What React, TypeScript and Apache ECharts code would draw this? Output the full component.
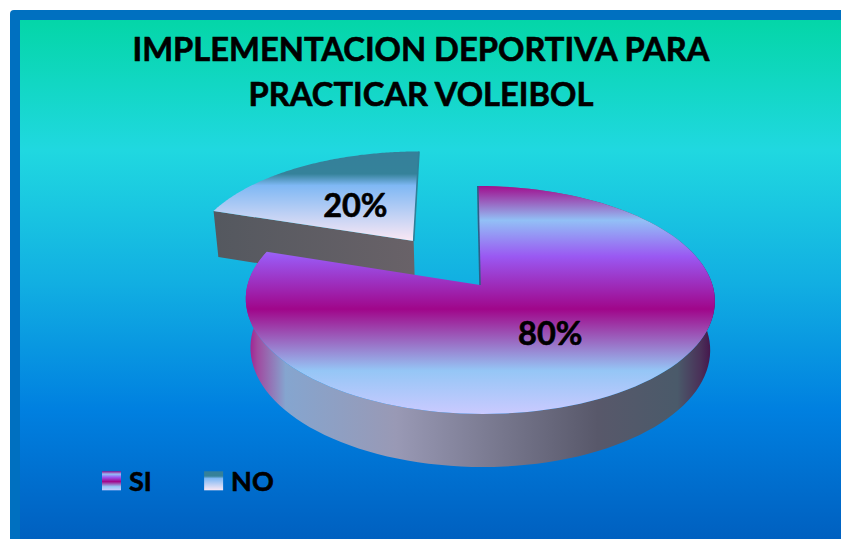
import React, { useEffect, useRef } from "react";
import * as echarts from "echarts";

const titleText = "IMPLEMENTACION DEPORTIVA PARA\nPRACTICAR VOLEIBOL";
const categories = ["SI", "NO"];
const values = [80, 20];
const fontFamily = "Lato, 'Open Sans', sans-serif";

const grad = (x0: number, y0: number, x1: number, y1: number, stops: [number, string][]) =>
  new echarts.graphic.LinearGradient(x0, y0, x1, y1, stops.map(([offset, color]) => ({ offset, color })));

const siStops: [number, string][] = [
  [0, "#a00e8e"], [0.15, "#92c0f6"], [0.31, "#9a58f2"], [0.54, "#a0068a"], [0.81, "#95c6f6"], [1, "#cacaff"],
];
const noStops: [number, string][] = [
  [0, "#35809a"], [0.25, "#35829a"], [0.38, "#7fb8f4"], [1, "#fbe8f4"],
];
const siSideStops: [number, string][] = [
  [0, "#a0108a"], [0.025, "#a04aa0"], [0.085, "#85a5cf"], [0.32, "#9999b5"], [0.55, "#76768c"],
  [0.75, "#58586a"], [0.92, "#4a5a6a"], [0.97, "#4a3058"], [1, "#420c48"],
];
const noSideStops: [number, string][] = [[0, "#54585f"], [1, "#696268"]];

// perspective projection of a unit disc lying on a floor, z = 0 top face, z = 1 bottom face
const CX = 480, CY = 285, A = 232.5, B = 112, P = 0.1316, H = 49.7, Q = 0.02, SKEW = 2.5;
const project = (u: number, v: number, z: number): [number, number] => {
  const w = 1 - P * v + Q * z;
  return [CX + (A * u + SKEW * v) / w, CY + (B * v + H * z) / w];
};
const total = values.reduce((a, b) => a + b, 0);

function sliceGeometry(index: number, explode: number, dx: number) {
  const before = values.slice(0, index).reduce((a, b) => a + b, 0);
  const t0 = (before / total) * Math.PI * 2;
  const t1 = ((before + values[index]) / total) * Math.PI * 2;
  const mid = (t0 + t1) / 2;
  const u0 = Math.sin(mid) * explode;
  const v0 = -Math.cos(mid) * explode;
  const at = (u: number, v: number, z: number): [number, number] => {
    const [x, y] = project(u, v, z);
    return [x + dx, y];
  };
  const arc = (z: number) => {
    const pts: [number, number][] = [];
    const n = 120;
    for (let i = 0; i <= n; i++) {
      const t = t0 + ((t1 - t0) * i) / n;
      pts.push(at(u0 + Math.sin(t), v0 - Math.cos(t), z));
    }
    return pts;
  };
  return {
    apexTop: at(u0, v0, 0),
    apexBottom: at(u0, v0, 1),
    arcTop: arc(0),
    arcBottom: arc(1),
    label: at(u0 + Math.sin(mid) * 0.5, v0 - Math.cos(mid) * 0.5, 0),
  };
}

const heavy = { textBorderColor: "#000", textBorderWidth: 0.6 };

const renderSi = (_p: any, api: any) => {
  const g = sliceGeometry(0, 0, 0);
  return {
    type: "group",
    children: [
      {
        type: "polygon",
        shape: { points: [...g.arcTop, ...[...g.arcBottom].reverse()] },
        style: { fill: grad(0, 0, 1, 0, siSideStops) },
      },
      {
        type: "polygon",
        shape: { points: [g.apexTop, ...g.arcTop] },
        style: { fill: grad(0, 0, 0, 1, siStops) },
      },
      {
        type: "line",
        shape: { x1: g.arcTop[0][0], y1: g.arcTop[0][1], x2: g.apexTop[0], y2: g.apexTop[1] },
        style: { stroke: "#2c5f88", lineWidth: 1.6 },
      },
      {
        type: "text",
        z2: 10,
        style: {
          text: `${api.value(0)}%`, x: g.label[0] - 3, y: g.label[1], align: "center", verticalAlign: "middle",
          font: `bold 32.5px ${fontFamily}`, fill: "#000", stroke: "#000", lineWidth: 0.6,
        },
      },
    ],
  };
};

const renderNo = (_p: any, api: any) => {
  const g = sliceGeometry(1, 0.512, 1);
  const first = g.arcTop[0];
  const firstB = g.arcBottom[0];
  const last = g.arcTop[g.arcTop.length - 1];
  return {
    type: "group",
    children: [
      {
        type: "polygon",
        shape: { points: [first, g.apexTop, g.apexBottom, firstB] },
        style: { fill: grad(0, 0, 1, 0, noSideStops) },
      },
      {
        type: "polygon",
        shape: { points: [g.apexTop, ...g.arcTop] },
        style: { fill: grad(0, 0, 0, 1, noStops) },
      },
      {
        type: "line",
        shape: { x1: last[0], y1: last[1], x2: g.apexTop[0], y2: g.apexTop[1] },
        style: { stroke: "#2f7f98", lineWidth: 1.6 },
      },
      {
        type: "text",
        z2: 10,
        style: {
          text: `${api.value(0)}%`, x: g.label[0] + 1, y: g.label[1] + 2, align: "center", verticalAlign: "middle",
          font: `bold 32.5px ${fontFamily}`, fill: "#000", stroke: "#000", lineWidth: 0.6,
        },
      },
    ],
  };
};

export default function App() {
  const ref = useRef<HTMLDivElement>(null);
  useEffect(() => {
    document.body.style.margin = "0";
    document.body.style.background = "#fff";
    const chart = echarts.init(ref.current!, undefined, { renderer: "svg" });
    chart.setOption({
      animation: false,
      title: {
        text: titleText,
        left: 421,
        top: 26,
        padding: 0,
        textAlign: "center",
        textStyle: { fontFamily, fontWeight: "bold", fontSize: 32.7, lineHeight: 45, color: "#000", ...heavy },
      },
      legend: {
        left: 102,
        top: 467,
        padding: 0,
        itemWidth: 19,
        itemHeight: 19,
        itemGap: 52,
        textStyle: { fontFamily, fontWeight: "bold", fontSize: 27, color: "#000", padding: [0, 0, 0, 3], ...heavy },
        data: [
          { name: categories[0], icon: "rect", itemStyle: { color: grad(0, 0, 0, 1, siStops) } },
          { name: categories[1], icon: "rect", itemStyle: { color: grad(0, 0, 0, 1, noStops) } },
        ],
      },
      graphic: [
        { type: "rect", z: -20, shape: { x: 10, y: 10, width: 831, height: 529, r: [4, 0, 0, 0] }, style: { fill: "#0070c0" } },
        {
          type: "rect", z: -19, shape: { x: 20, y: 20, width: 821, height: 519 },
          style: {
            fill: grad(0, 0, 0, 1, [
              [0, "#04d6a8"], [0.25, "#20d8e0"], [0.5, "#12b0e2"], [0.75, "#0080e0"], [1, "#0060c0"],
            ]),
          },
        },
      ],
      series: [
        { type: "custom", name: categories[1], coordinateSystem: "none", renderItem: renderNo, data: [values[1]], z: 2 },
        { type: "custom", name: categories[0], coordinateSystem: "none", renderItem: renderSi, data: [values[0]], z: 3 },
      ],
    });
    return () => chart.dispose();
  }, []);
  return <div ref={ref} style={{ width: 841, height: 539 }} />;
}
